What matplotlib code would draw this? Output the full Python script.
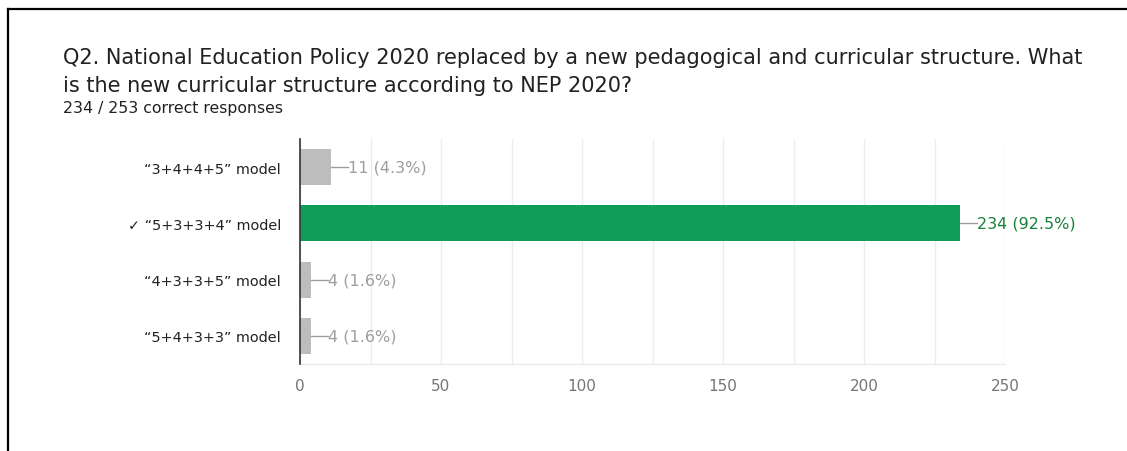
import matplotlib.pyplot as plt
from matplotlib.lines import Line2D

plt.rcParams['font.family'] = ['DejaVu Sans']

options = ['“3+4+4+5” model', '✓ “5+3+3+4” model', '“4+3+3+5” model', '“5+4+3+3” model']
counts = [11, 234, 4, 4]
percents = [4.3, 92.5, 1.6, 1.6]
correct = [False, True, False, False]
xticks = [0, 50, 100, 150, 200, 250]

GREY_BAR = '#bdbdbd'
GREEN_BAR = '#0f9d58'

fig = plt.figure(figsize=(11.27, 4.52), dpi=100)

# card border (top and left edges)
fig.add_artist(Line2D([8 / 1127, 8 / 1127], [0, 1 - 10 / 452], color='black', lw=1.6))
fig.add_artist(Line2D([8 / 1127, 1], [1 - 10 / 452, 1 - 10 / 452], color='black', lw=1.6))

fig.text(63 / 1127, 1 - 58 / 452,
         'Q2. National Education Policy 2020 replaced by a new pedagogical and curricular structure. What',
         fontsize=15, color='#202124', va='center')
fig.text(63 / 1127, 1 - 86 / 452, 'is the new curricular structure according to NEP 2020?',
         fontsize=15, color='#202124', va='center')
fig.text(63 / 1127, 1 - 108 / 452, '234 / 253 correct responses',
         fontsize=11.3, color='#202124', va='center')

ax = fig.add_axes([300 / 1127, 87 / 452, 705 / 1127, 225 / 452])
y = list(range(len(options)))
colors = [GREEN_BAR if c else GREY_BAR for c in correct]
ax.barh(y, counts, height=0.64, color=colors, zorder=3)
ax.set_ylim(len(options) - 0.5, -0.5)
ax.set_xlim(0, 250)

ax.set_xticks(xticks)
ax.set_xticks(range(0, 251, 25), minor=True)
ax.tick_params(axis='x', which='both', length=0, colors='#757575', labelsize=11, pad=10)
ax.tick_params(axis='y', length=0, labelsize=10.4, labelcolor='#202124', pad=13.5)
ax.set_yticks(y)
ax.set_yticklabels(options)
ax.grid(axis='x', which='both', color='#ececec', lw=1, zorder=0)

for s in ['top', 'right']:
    ax.spines[s].set_visible(False)
ax.spines['bottom'].set_color('#e8e8e8')
ax.spines['left'].set_color('#333333')
ax.spines['left'].set_linewidth(1.2)
ax.spines['left'].set_zorder(4)

for yi, n, p, c in zip(y, counts, percents, correct):
    tc = '#188038' if c else '#9e9e9e'
    ax.plot([n, n + 6], [yi, yi], color='#9e9e9e', lw=1, zorder=3)
    ax.text(n + 6, yi, f'{n} ({p}%)', color=tc, fontsize=11.5, va='center', ha='left')

fig.savefig('out.png', dpi=100)
